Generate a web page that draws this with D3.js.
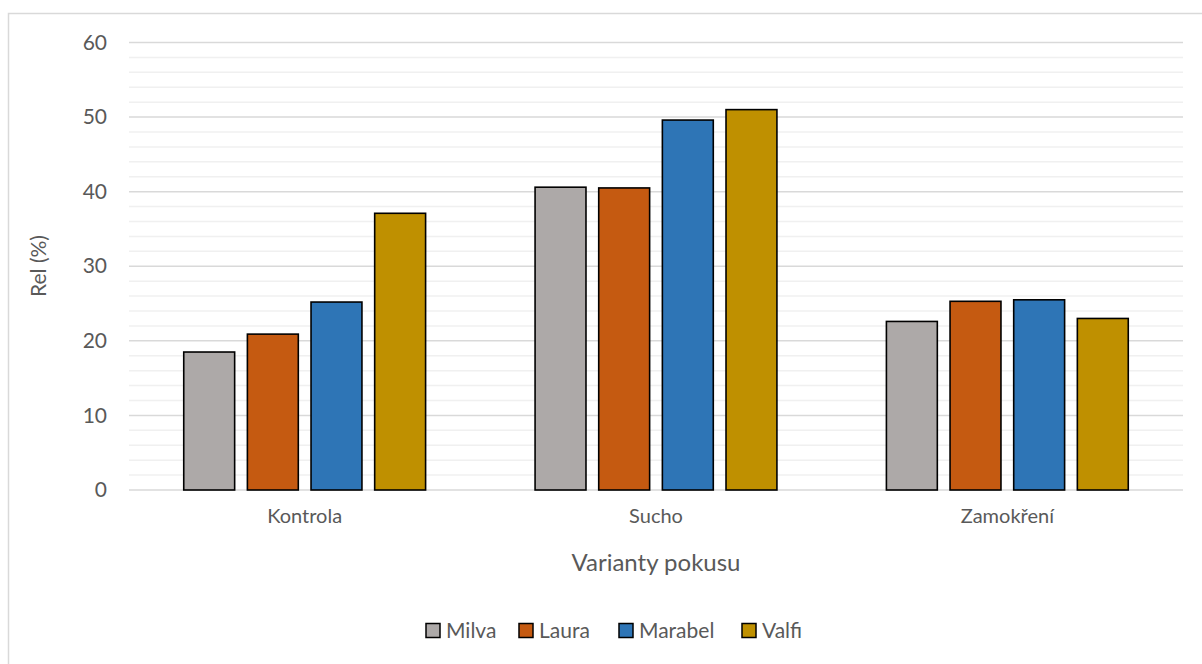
<!DOCTYPE html>
<html>
<head>
<meta charset="utf-8">
<script src="https://cdn.jsdelivr.net/npm/d3@7"></script>
<style>
  html, body { margin: 0; padding: 0; background: #fff; }
  svg { display: block; }
  text { font-family: Lato, "Open Sans", sans-serif; fill: #595959; }
</style>
</head>
<body>
<svg id="chart" width="1202" height="664"></svg>
<script>
// Experiment variants (x categories) and potato varieties (series)
const categories = ["Kontrola", "Sucho", "Zamokření"];
const series = ["Milva", "Laura", "Marabel", "Valfi"];
const colors = ["#ADA9A8", "#C55A11", "#2E75B6", "#BF9000"];

// Rel (%) per variety, one value per category
const milva   = [18.5, 40.6, 22.6];
const laura   = [20.9, 40.5, 25.3];
const marabel = [25.2, 49.6, 25.5];
const valfi   = [37.1, 51.0, 23.0];
const values = [milva, laura, marabel, valfi];

const yTicks = [0, 10, 20, 30, 40, 50, 60];
const yMinor = d3.range(0, 61, 2);

const svg = d3.select("#chart");
const W = 1202, H = 664;
const m = { left: 129, right: 1183, top: 42.5, bottom: 490 };
const FONT = "Lato, 'Open Sans', sans-serif";

// Chart frame (runs off the right and bottom edges)
svg.append("rect")
  .attr("x", 8.5).attr("y", 13.5)
  .attr("width", W + 20).attr("height", H + 20)
  .attr("fill", "#fff").attr("stroke", "#d9d9d9").attr("stroke-width", 1.5);

const y = d3.scaleLinear().domain([0, 60]).range([m.bottom, m.top]);
const x0 = d3.scaleBand().domain(categories).range([m.left, m.right]).padding(0);
const x1 = d3.scaleBand().domain(series).range([0, x0.bandwidth()])
  .paddingInner(0.2).paddingOuter(0.86);

// Minor gridlines
svg.append("g").selectAll("line").data(yMinor.filter(v => v % 10 !== 0)).join("line")
  .attr("x1", m.left).attr("x2", m.right)
  .attr("y1", d => y(d)).attr("y2", d => y(d))
  .attr("stroke", "#f0f0f0").attr("stroke-width", 1.5);

// Major gridlines
svg.append("g").selectAll("line").data(yTicks).join("line")
  .attr("x1", m.left).attr("x2", m.right)
  .attr("y1", d => y(d)).attr("y2", d => y(d))
  .attr("stroke", "#d9d9d9").attr("stroke-width", 1.5);

// Y axis labels
const yAxis = d3.axisLeft(y).tickValues(yTicks).tickSize(0).tickPadding(22);
const gy = svg.append("g").attr("transform", `translate(${m.left},0)`).call(yAxis);
gy.select(".domain").remove();
gy.selectAll("text").style("font-size", "21px").style("font-family", FONT).attr("fill", "#595959");

// Bars
const groups = svg.append("g").selectAll("g").data(categories).join("g")
  .attr("transform", d => `translate(${x0(d)},0)`);
groups.selectAll("rect")
  .data((c, ci) => series.map((s, si) => ({ s, si, v: values[si][ci] })))
  .join("rect")
  .attr("x", d => x1(d.s))
  .attr("width", x1.bandwidth())
  .attr("y", d => y(d.v))
  .attr("height", d => y(0) - y(d.v))
  .attr("fill", d => colors[d.si])
  .attr("stroke", "#000").attr("stroke-width", 1.6);

// X axis labels
const xAxis = d3.axisBottom(x0).tickSize(0).tickPadding(0);
const gx = svg.append("g").attr("transform", `translate(0,${m.bottom})`).call(xAxis);
gx.select(".domain").remove();
gx.selectAll("text").attr("y", 33).attr("dy", null)
  .style("font-size", "20px").style("font-family", FONT).attr("fill", "#595959");

// Axis titles
svg.append("text").attr("x", (m.left + m.right) / 2).attr("y", 571)
  .attr("text-anchor", "middle").style("font-size", "24px").text("Varianty pokusu");
svg.append("text").attr("transform", "translate(46,266) rotate(-90)")
  .attr("text-anchor", "middle").style("font-size", "21px").text("Rel (%)");

// Legend
const legendX = [426, 519, 619, 742];
const lg = svg.append("g").selectAll("g").data(series).join("g")
  .attr("transform", (d, i) => `translate(${legendX[i]},623.5)`);
lg.append("rect").attr("width", 14).attr("height", 14)
  .attr("fill", (d, i) => colors[i]).attr("stroke", "#000").attr("stroke-width", 1.5);
lg.append("text").attr("x", 20).attr("y", 14.5).style("font-size", "21px").text(d => d);
</script>
</body>
</html>
